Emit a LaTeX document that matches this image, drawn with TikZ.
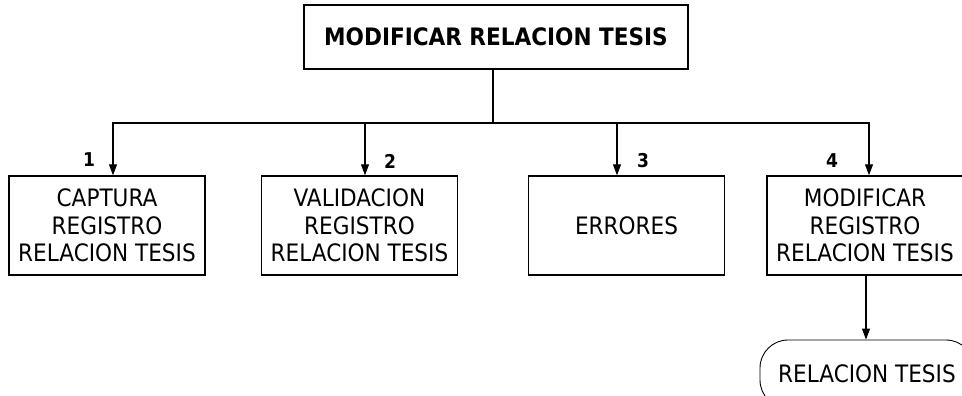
\documentclass[tikz,border=0pt]{standalone}
\usepackage{fontspec}
\setmainfont{DejaVu Sans Condensed}
\usetikzlibrary{arrows.meta}
\tikzset{
  box/.style={draw, line width=1.4pt, minimum width=196pt, minimum height=99pt, align=center, inner sep=0pt, font=\fontsize{24}{27.5}\selectfont},
  titlebox/.style={draw, line width=1.4pt, minimum width=384pt, minimum height=64pt, inner sep=0pt, font=\fontsize{24}{27}\selectfont\bfseries},
  term/.style={draw, line width=0.9pt, rounded corners=28pt, minimum width=214pt, minimum height=68pt, inner sep=0pt, font=\fontsize{24}{27}\selectfont},
  num/.style={font=\fontsize{19}{22}\selectfont\bfseries, inner sep=0pt},
  conn/.style={line width=1.1pt},
  arr/.style={line width=1.1pt, -{Triangle[width=8pt,length=11pt]}}
}
\begin{document}
\begin{tikzpicture}[x=1pt,y=-1pt]
\useasboundingbox (0,0) rectangle (962,396);
\clip (0,0) rectangle (962,396);
\node[titlebox] (top) at (496,37) {MODIFICAR RELACION TESIS};
\node[box] (b1) at (107,225.5) {CAPTURA\\REGISTRO\\RELACION TESIS};
\node[box] (b2) at (359.5,225.5) {VALIDACION\\REGISTRO\\RELACION TESIS};
\node[box] (b3) at (626.5,225.5) {ERRORES};
\node[box] (b4) at (865,225.5) {MODIFICAR\\REGISTRO\\RELACION TESIS};
\node[term] (t) at (867,374) {RELACION TESIS};
\coordinate (j) at (493,123);
\draw[conn] ([xshift=-3pt]top.south) -- (j);
\draw[arr] (j) -| ([xshift=6pt]b1.north);
\draw[arr] (j) -| ([xshift=5.5pt]b2.north);
\draw[arr] (j) -| ([xshift=-9.5pt]b3.north);
\draw[arr] (j) -| ([xshift=4pt]b4.north);
\draw[arr] ([xshift=1pt]b4.south) -- ([xshift=-1pt]t.north);
\node[num] (n1) at (89,160) {1};
\node[num] (n2) at (390,161) {2};
\node[num] (n3) at (643,161) {3};
\node[num] (n4) at (832,161) {4};
\end{tikzpicture}
\end{document}
